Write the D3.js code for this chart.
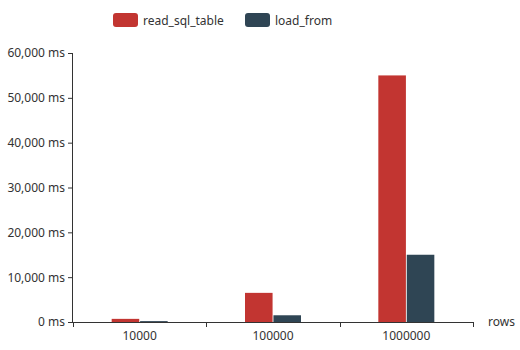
<!DOCTYPE html>
<html>
<head>
<meta charset="utf-8">
<script src="https://cdn.jsdelivr.net/npm/d3@7"></script>
<style>
  body { margin: 0; background: #fff; }
  text { font-family: "Microsoft YaHei", "Noto Sans", "DejaVu Sans", sans-serif; }
</style>
</head>
<body>
<svg id="Vis" width="520" height="350"></svg>
<script>
const categories = ["10000", "100000", "1000000"];
const seriesNames = ["read_sql_table", "load_from"];
const readSqlTable = [700, 6500, 55000];
const loadFrom = [200, 1500, 15000];
const yTicks = [0, 10000, 20000, 30000, 40000, 50000, 60000];
const colors = ["#c23531", "#2f4554"];

const margin = { top: 53, bottom: 28, left: 73, right: 47 };
const svg = d3.select("svg#Vis");
const width = 520, height = 350;
const plotWidth = width - margin.left - margin.right;
const plotHeight = height - margin.top - margin.bottom;

const plot = svg.append("g")
  .attr("transform", "translate(" + margin.left + "," + margin.top + ")");

const x0 = d3.scaleBand().domain(categories).range([0, plotWidth]);
const half = 28;
const x1 = d3.scaleBand().domain(seriesNames)
  .range([x0.bandwidth() / 2 - half, x0.bandwidth() / 2 + half])
  .paddingInner(0.03);
const y = d3.scaleLinear().domain([0, 60000]).range([plotHeight, 0]);

const fmt = d3.format(",");

// y axis
const yAxis = plot.append("g").call(
  d3.axisLeft(y).tickValues(yTicks).tickSize(5).tickPadding(3)
    .tickFormat(d => fmt(d) + " ms"));
yAxis.select(".domain").attr("stroke", "#333").attr("d", "M-0.5," + plotHeight + "V0");
yAxis.selectAll(".tick line").attr("stroke", "#333");
yAxis.selectAll("text").attr("fill", "#333").style("font-size", "12px");

// bars
const data = categories.map((c, i) => ({ cat: c, values: [readSqlTable[i], loadFrom[i]] }));
const groups = plot.append("g").selectAll("g").data(data).enter().append("g")
  .attr("transform", d => "translate(" + x0(d.cat) + ",0)");
groups.selectAll("rect")
  .data(d => d.values.map((v, j) => ({ name: seriesNames[j], v: v, j: j })))
  .enter().append("rect")
  .attr("x", d => x1(d.name))
  .attr("width", x1.bandwidth())
  .attr("y", d => y(d.v))
  .attr("height", d => plotHeight - y(d.v))
  .attr("fill", d => colors[d.j]);

// x axis
const xAxisG = plot.append("g").attr("transform", "translate(0," + plotHeight + ")");
xAxisG.append("line").attr("x1", 0).attr("x2", plotWidth).attr("y1", 0.5).attr("y2", 0.5)
  .attr("stroke", "#333");
const edges = categories.map(c => x0(c)).concat([plotWidth]);
xAxisG.selectAll("line.tk").data(edges).enter().append("line").attr("class", "tk")
  .attr("x1", d => Math.round(d) + 0.5).attr("x2", d => Math.round(d) + 0.5)
  .attr("y1", 0).attr("y2", 5).attr("stroke", "#333");
xAxisG.selectAll("text").data(categories).enter().append("text")
  .attr("x", d => x0(d) + x0.bandwidth() / 2)
  .attr("y", 18)
  .attr("text-anchor", "middle")
  .attr("fill", "#333")
  .style("font-size", "12px")
  .text(d => d);
xAxisG.append("text").attr("x", plotWidth + 15).attr("y", 4)
  .attr("fill", "#333").style("font-size", "12px").text("rows");

// legend
const legendX = [113, 245];
const legend = svg.append("g").selectAll("g").data(seriesNames).enter().append("g")
  .attr("transform", (d, i) => "translate(" + legendX[i] + ",13)");
legend.append("rect").attr("width", 25).attr("height", 14).attr("rx", 3)
  .attr("fill", (d, i) => colors[i]);
legend.append("text").attr("x", 30).attr("y", 11.5)
  .attr("fill", "#333").style("font-size", "12px").text(d => d);
</script>
</body>
</html>
